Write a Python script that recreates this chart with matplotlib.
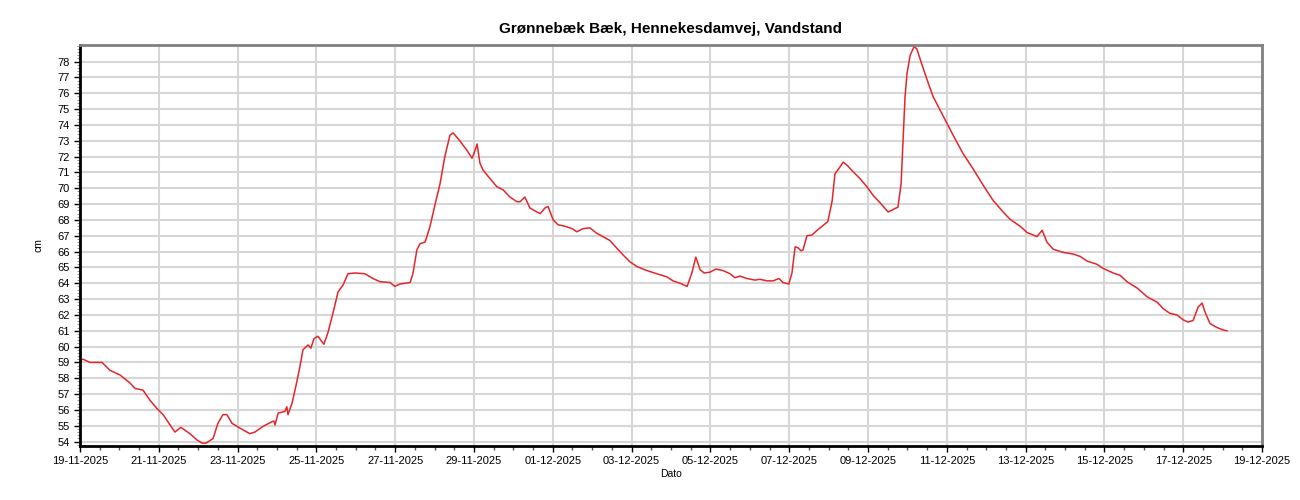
import numpy as np
import pandas as pd
import matplotlib
matplotlib.use("Agg")
import matplotlib.pyplot as plt
import matplotlib.dates as mdates
from matplotlib.ticker import MultipleLocator, FixedLocator

plt.rcParams['font.family'] = ['Liberation Sans', 'DejaVu Sans']

# days since 19-11-2025 00:00 and water level (cm)
days = [0.00, 0.08, 0.25, 0.56, 0.76, 1.02, 1.27, 1.40, 1.60, 1.78, 1.95, 2.11,
        2.34, 2.41, 2.56, 2.79, 2.97, 3.10, 3.20, 3.38, 3.50, 3.63, 3.73, 3.86,
        4.06, 4.31, 4.44, 4.64, 4.87, 4.92, 4.95, 5.03, 5.20, 5.25, 5.28, 5.38,
        5.48, 5.58, 5.66, 5.79, 5.86, 5.94, 6.04, 6.19, 6.29, 6.42, 6.55, 6.68,
        6.80, 6.98, 7.23, 7.44, 7.61, 7.87, 7.99, 8.12, 8.38, 8.45, 8.55, 8.63,
        8.76, 8.88, 9.01, 9.14, 9.26, 9.39, 9.47, 9.64, 9.82, 9.95, 10.00, 10.08,
        10.15, 10.23, 10.41, 10.58, 10.74, 10.91, 11.09, 11.17, 11.29, 11.42, 11.60, 11.68,
        11.80, 11.88, 12.01, 12.13, 12.31, 12.49, 12.61, 12.77, 12.94, 13.12, 13.27, 13.45,
        13.63, 13.78, 13.96, 14.14, 14.39, 14.64, 14.90, 15.05, 15.23, 15.41, 15.53, 15.63,
        15.74, 15.84, 15.99, 16.14, 16.32, 16.50, 16.62, 16.75, 16.93, 17.13, 17.26, 17.44,
        17.59, 17.74, 17.84, 17.99, 18.07, 18.15, 18.22, 18.30, 18.35, 18.45, 18.58, 18.71,
        18.86, 18.98, 19.09, 19.16, 19.29, 19.37, 19.47, 19.62, 19.80, 19.97, 20.13, 20.30,
        20.51, 20.71, 20.76, 20.84, 20.89, 20.94, 20.99, 21.07, 21.17, 21.24, 21.37, 21.50,
        21.65, 21.90, 22.16, 22.41, 22.66, 22.92, 23.17, 23.43, 23.60, 23.86, 24.04, 24.29,
        24.42, 24.54, 24.70, 24.95, 25.20, 25.38, 25.56, 25.81, 25.96, 26.22, 26.40, 26.57,
        26.83, 27.08, 27.34, 27.49, 27.66, 27.84, 27.99, 28.12, 28.25, 28.38, 28.48, 28.55,
        28.68, 28.86, 29.01, 29.11]
level = [59.15, 59.2, 59.0, 59.0, 58.5, 58.2, 57.7, 57.35, 57.25, 56.6, 56.1, 55.7,
         54.85, 54.6, 54.9, 54.5, 54.1, 53.9, 53.9, 54.2, 55.15, 55.7, 55.7, 55.15,
         54.85, 54.5, 54.6, 54.95, 55.25, 55.3, 55.05, 55.8, 55.9, 56.2, 55.7, 56.4,
         57.5, 58.7, 59.8, 60.1, 59.9, 60.5, 60.65, 60.15, 60.85, 62.1, 63.45, 63.9,
         64.6, 64.65, 64.6, 64.3, 64.1, 64.05, 63.8, 63.95, 64.05, 64.6, 66.1, 66.5,
         66.6, 67.55, 68.95, 70.3, 72.0, 73.35, 73.5, 73.0, 72.4, 71.9, 72.2, 72.8,
         71.6, 71.15, 70.6, 70.1, 69.9, 69.45, 69.15, 69.15, 69.45, 68.75, 68.5, 68.4,
         68.75, 68.85, 68.0, 67.7, 67.6, 67.45, 67.25, 67.45, 67.5, 67.15, 66.95, 66.7,
         66.2, 65.8, 65.35, 65.05, 64.8, 64.6, 64.4, 64.15, 64.0, 63.8, 64.65, 65.65,
         64.85, 64.65, 64.7, 64.9, 64.8, 64.6, 64.35, 64.45, 64.3, 64.2, 64.25, 64.15,
         64.15, 64.3, 64.05, 63.95, 64.65, 66.3, 66.25, 66.05, 66.1, 67.0, 67.05, 67.35,
         67.65, 67.9, 69.2, 70.9, 71.35, 71.65, 71.45, 71.05, 70.6, 70.1, 69.55, 69.1,
         68.5, 68.75, 68.8, 70.3, 73.05, 75.8, 77.25, 78.4, 78.95, 78.8, 77.8, 76.85,
         75.8, 74.6, 73.35, 72.2, 71.25, 70.2, 69.25, 68.5, 68.05, 67.6, 67.2, 66.95,
         67.35, 66.6, 66.15, 65.95, 65.85, 65.7, 65.4, 65.2, 64.95, 64.65, 64.5, 64.1,
         63.7, 63.15, 62.8, 62.4, 62.1, 62.0, 61.7, 61.55, 61.65, 62.5, 62.75, 62.2,
         61.45, 61.2, 61.05, 61.0]
yticks = list(range(54, 79))

start = pd.Timestamp("2025-11-19")
end = pd.Timestamp("2025-12-19")
times = start + pd.to_timedelta(days, unit="D")

fig = plt.figure(figsize=(13, 5), dpi=100, facecolor='w')
ax = fig.add_axes([0.0615, 0.108, 0.9093, 0.802])

ax.plot(times, level, color='#e3262b', lw=1.1)

ax.set_xlim(start, end)
ax.set_ylim(53.72, 79.05)

######################################################
ax.xaxis.set_major_locator(mdates.DayLocator(bymonthday=range(1, 32, 2)))
ax.xaxis.set_minor_locator(mdates.HourLocator(byhour=[0, 12]))
ax.xaxis.set_major_formatter(mdates.DateFormatter('%d-%m-%Y'))
ax.yaxis.set_major_locator(FixedLocator(yticks))
ax.yaxis.set_minor_locator(MultipleLocator(0.2))

ax.grid(True, which='major', color='#d6d6d6', lw=1.5)
ax.set_axisbelow(True)

ax.tick_params(axis='both', which='major', labelsize=8, color='k', length=4, width=1)
ax.tick_params(axis='x', which='minor', length=3, width=1, color='#555555')
ax.tick_params(axis='y', which='minor', length=2.5, width=0.8, color='#999999')

for s in ['left', 'bottom']:
    ax.spines[s].set_linewidth(2)
    ax.spines[s].set_color('k')
for s in ['top', 'right']:
    ax.spines[s].set_linewidth(2)
    ax.spines[s].set_color('#808080')

ax.set_title('Grønnebæk Bæk, Hennekesdamvej, Vandstand', fontsize=11, weight='bold', pad=9)
ax.set_xlabel('Dato', fontsize=7.5, labelpad=2)
ax.set_ylabel('cm', fontsize=7.5, labelpad=10)

plt.savefig("out.png", dpi=100, facecolor='w')
